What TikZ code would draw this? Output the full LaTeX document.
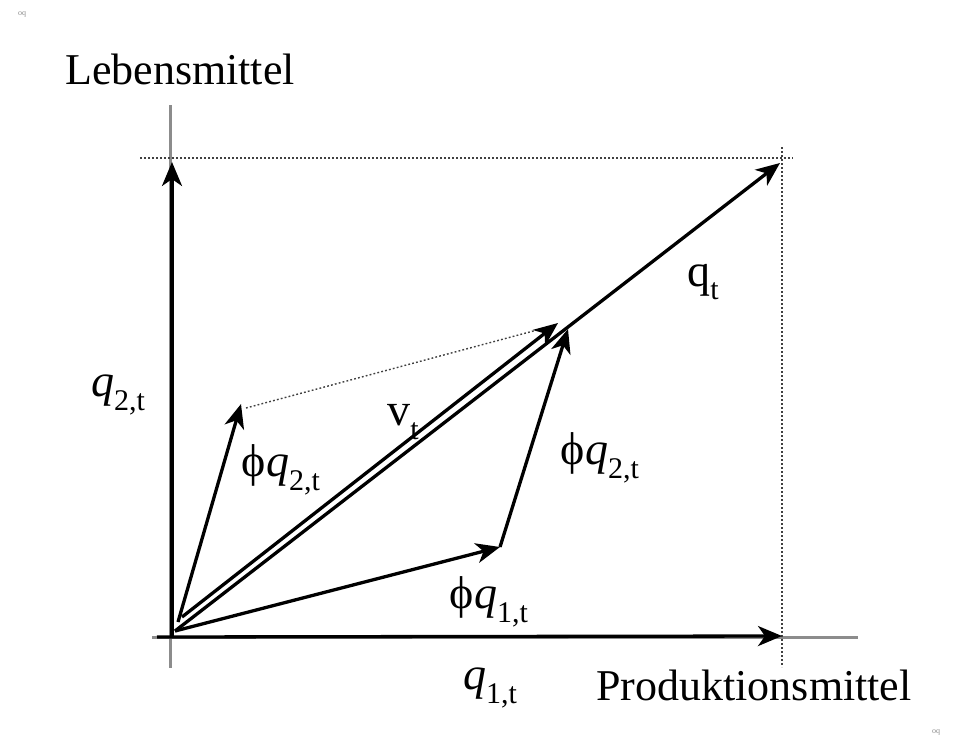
\documentclass[tikz,border=0pt]{standalone}
\usepackage{fontspec}
\setmainfont{Liberation Serif}
\usetikzlibrary{arrows.meta}
\newcommand\lsub[1]{\raisebox{-0.3em}{\fontsize{30}{30}\selectfont #1}}
\newcommand\vphi{\symbol{"03D5}}
\begin{document}
\begin{tikzpicture}[x=1pt,y=-1pt,
  axis/.style={draw=black!45, line width=3pt},
  vec/.style={draw=black, line width=3.3pt, -{Stealth[length=24pt,width=20pt,inset=7pt]}},
  guide/.style={draw=black!75, line width=1.8pt, dash pattern=on 1.8pt off 2.2pt},
  lab/.style={font=\fontsize{46}{46}\selectfont, inner sep=0pt},
  big/.style={font=\fontsize{44}{44}\selectfont, inner sep=0pt, anchor=base},
  tiny/.style={font=\fontsize{8}{8}\selectfont, text=black!45, inner sep=0pt}]
\useasboundingbox (0,0) rectangle (956,739);
% coordinates
\coordinate (O) at (172,636);
\coordinate (Oq) at (175,631);
\coordinate (Ov) at (182,617);
\coordinate (Ol) at (178,622);
\coordinate (Ytip) at (172,162);
\coordinate (Xtip) at (782,636);
\coordinate (Qtip) at (780,163);
\coordinate (Vtip) at (558,323);
\coordinate (A) at (500,547);
\coordinate (B) at (568,329);
\coordinate (C) at (241,404);
\coordinate (Cd) at (246,408);
\coordinate (Vd) at (552,326);
% axes
\draw[axis] (170,105) coordinate (ya) -- (170,668) coordinate (yb);
\draw[axis] (152,637) coordinate (xa) -- (858,637) coordinate (xb);
% guides
\draw[guide] (140,158) coordinate (g1) -- (793,158) coordinate (g2);
\draw[guide] (782,147) coordinate (g3) -- (782,667) coordinate (g4);
\draw[guide, line width=1.4pt] (Cd) -- (Vd);
% vectors
\draw[vec] (O) -- (Ytip);
\draw[vec] (157,637) coordinate (xs) -- (Xtip);
\draw[vec] (Oq) -- (Qtip);
\draw[vec] (Ov) -- (Vtip);
\draw[vec] (Oq) -- (A);
\draw[vec] (A) -- (B);
\draw[vec] (Ol) -- (C);
% labels
\node[big] (leb) at (180,84) {Lebensmittel};
\node[big] (prod) at (754,700) {Produktionsmittel};
\node[lab] (q2) at (118,395) {\textit{q}\lsub{2,t}};
\node[lab] (pq2l) at (281,470) {\vphi\textit{q}\lsub{2,t}};
\node[lab] (vt) at (403,422) {v\lsub{t}};
\node[lab] (qt) at (703,282) {q\lsub{t}};
\node[lab] (pq2r) at (600,458) {\vphi\textit{q}\lsub{2,t}};
\node[lab] (pq1) at (489,602) {\vphi\textit{q}\lsub{1,t}};
\node[lab] (q1) at (490,688) {\textit{q}\lsub{1,t}};
\node[tiny] (m1) at (22,14) {oq};
\node[tiny] (m2) at (936,732) {oq};
\end{tikzpicture}
\end{document}
